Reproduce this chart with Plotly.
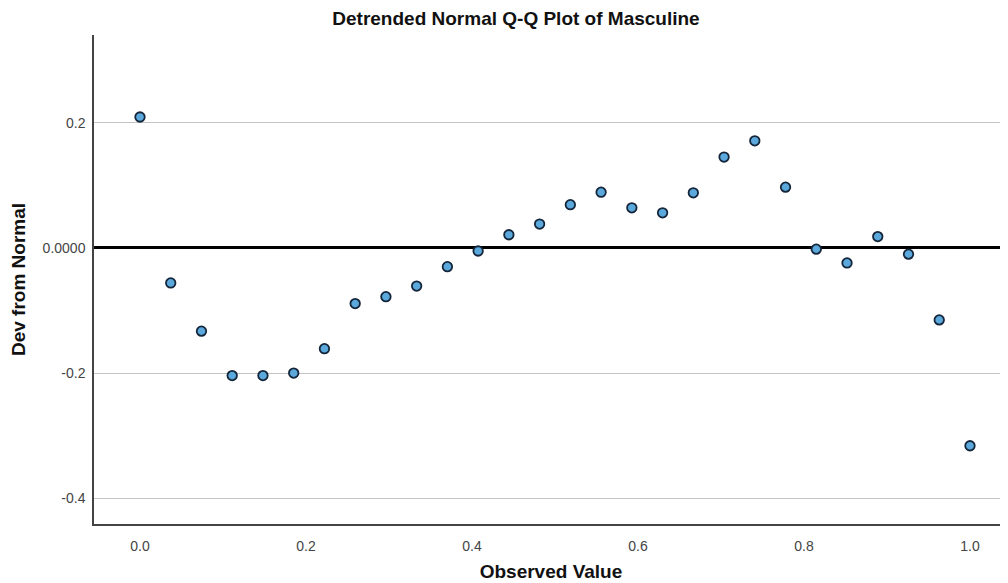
import plotly.graph_objects as go

observed = [i / 27 for i in range(28)]
deviation = [0.209, -0.056, -0.133, -0.204, -0.204, -0.200, -0.161, -0.089, -0.078, -0.061,
             -0.030, -0.005, 0.021, 0.038, 0.069, 0.089, 0.064, 0.056, 0.088, 0.145,
             0.171, 0.097, -0.002, -0.024, 0.018, -0.010, -0.115, -0.316]

y_tickvals = [0.2, 0.0, -0.2, -0.4]
y_ticktext = ["0.2", "0.0000", "-0.2", "-0.4"]
x_tickvals = [0.0, 0.2, 0.4, 0.6, 0.8, 1.0]
x_ticktext = ["0.0", "0.2", "0.4", "0.6", "0.8", "1.0"]

fig = go.Figure()
fig.add_trace(go.Scatter(
    x=observed, y=deviation, mode="markers",
    marker=dict(size=9.5, color="#5ba8dc", line=dict(color="#15263a", width=1.8)),
    showlegend=False, cliponaxis=False,
))

fig.update_layout(
    width=1000, height=575,
    margin=dict(l=86, r=0, t=27, b=59, autoexpand=False),
    paper_bgcolor="white", plot_bgcolor="white",
    font=dict(family="Arial, Liberation Sans, sans-serif", color="#222"),
    title=dict(text="<b>Detrended Normal Q-Q Plot of Masculine</b>", x=0.508, xanchor="center",
               y=1 - 10 / 575, yanchor="middle", font=dict(size=19, color="#111")),
    xaxis=dict(range=[-0.0554, 1.0458], tickvals=x_tickvals, ticktext=x_ticktext,
               showgrid=False, zeroline=False, showline=True, linecolor="#444", linewidth=1.5,
               ticks="", tickfont=dict(size=14, color="#444"), ticklabelstandoff=8,
               automargin=False,
               title=dict(text="<b>Observed Value</b>", font=dict(size=19, color="#111"), standoff=12)),
    yaxis=dict(range=[-0.441, 0.340], tickvals=y_tickvals, ticktext=y_ticktext,
               showgrid=True, gridcolor="#c4c4c4", gridwidth=1.4,
               zeroline=True, zerolinecolor="black", zerolinewidth=3,
               showline=True, linecolor="#444", linewidth=1.5,
               ticks="", tickfont=dict(size=14, color="#444"), ticklabelstandoff=4,
               automargin=False,
               title=dict(text="<b>Dev from Normal</b>", font=dict(size=19, color="#111"), standoff=16)),
)

fig.write_html("out.html")
